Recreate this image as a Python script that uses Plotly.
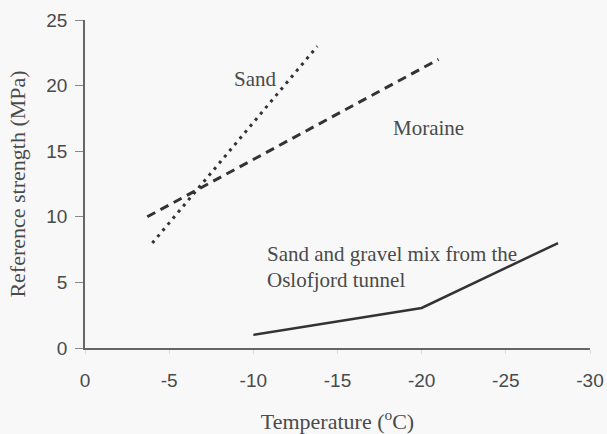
import plotly.graph_objects as go

# Data
sand_x = [-4.0, -13.8]
sand_y = [8.0, 23.0]
moraine_x = [-3.7, -21.0]
moraine_y = [10.0, 22.0]
mix_x = [-10.0, -20.0, -28.1]
mix_y = [1.0, 3.05, 8.0]

x_ticks = [0, -5, -10, -15, -20, -25, -30]
y_ticks = [0, 5, 10, 15, 20, 25]

line_col = "#333333"
text_col = "#4a4a4a"
serif = "Liberation Serif, Times New Roman, serif"
sans = "Liberation Sans, Arial, sans-serif"

fig = go.Figure()
fig.add_trace(go.Scatter(x=sand_x, y=sand_y, mode="lines", name="Sand",
                         line=dict(color=line_col, width=3, dash="3px,5px")))
fig.add_trace(go.Scatter(x=moraine_x, y=moraine_y, mode="lines", name="Moraine",
                         line=dict(color=line_col, width=3, dash="9px,6px")))
fig.add_trace(go.Scatter(x=mix_x, y=mix_y, mode="lines", name="Sand and gravel mix",
                         line=dict(color=line_col, width=2.5)))

ann_font = dict(family=serif, size=21, color=text_col)
fig.add_annotation(x=-10.1, y=20.5, text="Sand", showarrow=False, font=ann_font)
fig.add_annotation(x=-20.4, y=16.8, text="Moraine", showarrow=False, font=ann_font)
fig.add_annotation(x=-10.7, y=7.2, text="Sand and gravel mix from the",
                   showarrow=False, font=ann_font, xanchor="left", yanchor="middle")
fig.add_annotation(x=-10.7, y=5.15, text="Oslofjord tunnel",
                   showarrow=False, font=ann_font, xanchor="left", yanchor="middle")

fig.update_layout(
    width=607, height=434,
    margin=dict(l=85, r=17, t=20, b=86),
    paper_bgcolor="#f8f8f8", plot_bgcolor="#f8f8f8",
    showlegend=False,
    xaxis=dict(range=[0, -30], tickvals=x_ticks, ticktext=[str(v) for v in x_ticks],
               automargin=False,
               showgrid=False, zeroline=False, showline=True, linecolor="#666666",
               linewidth=1.5, ticks="outside", ticklen=4, tickcolor="#dddddd",
               ticklabelstandoff=10,
               tickfont=dict(family=sans, size=19, color=text_col),
               title=dict(text="Temperature (<sup>o</sup>C)", standoff=27,
                          font=dict(family=serif, size=22, color=text_col))),
    yaxis=dict(range=[0, 25], tickvals=y_ticks, showgrid=False, zeroline=False,
               automargin=False,
               showline=True, linecolor="#666666", linewidth=1.5,
               ticks="outside", ticklen=8, tickcolor="#888888",
               ticklabelstandoff=4,
               tickfont=dict(family=sans, size=19, color=text_col),
               title=dict(text="Reference strength (MPa)", standoff=15,
                          font=dict(family=serif, size=22, color=text_col))),
)

fig.write_html("out.html", config={"displayModeBar": False},
               post_script="document.body.style.margin='0';document.body.style.overflow='hidden';")
